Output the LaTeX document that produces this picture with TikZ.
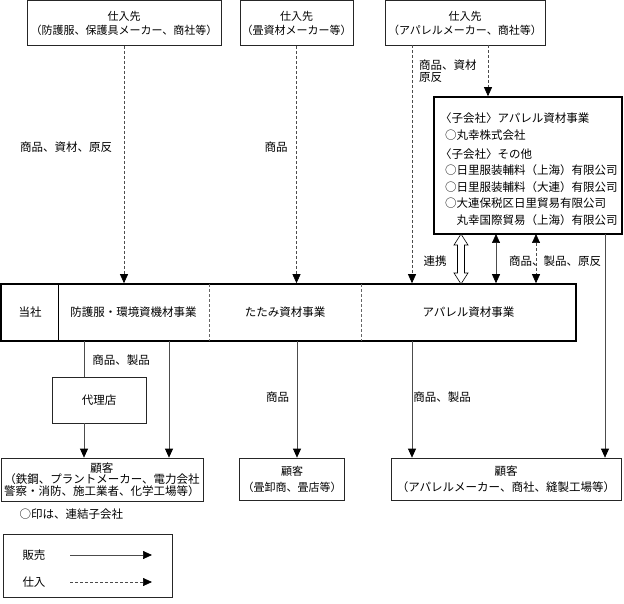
\documentclass[tikz,border=0pt]{standalone}
\usepackage{fontspec}
\setmainfont{Noto Sans CJK JP}
\usetikzlibrary{arrows.meta}

\begin{document}
\begin{tikzpicture}[x=1pt, y=-1pt,
    every node/.style={font=\fontsize{11.5}{14}\selectfont, inner sep=0pt},
    box/.style={draw=black!85, line width=0.7pt, align=center},
    heavy/.style={draw=black, line width=1.6pt},
    arr/.style={-{Triangle[length=9pt,width=8pt,color=black]}},
    arrboth/.style={{Triangle[length=9pt,width=8pt,color=black]}-{Triangle[length=9pt,width=8pt,color=black]}},
    sell/.style={draw=black!70, line width=0.7pt},
    buy/.style={draw=black!70, line width=0.7pt, dash pattern=on 3pt off 2pt}]
    \useasboundingbox (0,0) rectangle (624,604);

    % suppliers
    \node[box, minimum width=194pt, minimum height=45pt, font=\fontsize{11}{14}\selectfont] (sup1) at (124,23) {仕入先\\（防護服、保護具メーカー、商社等）};
    \node[box, minimum width=113pt, minimum height=45pt, font=\fontsize{11}{14}\selectfont] (sup2) at (296.5,23) {仕入先\\（畳資材メーカー等）};
    \node[box, minimum width=160pt, minimum height=45pt, font=\fontsize{11}{14}\selectfont] (sup3) at (465,23) {仕入先\\（アパレルメーカー、商社等）};

    % subsidiaries
    \node[heavy, minimum width=188pt, minimum height=137pt] (sub) at (528,165.5) {};
    \node[anchor=west] (sa1) at (440,118) {〈子会社〉アパレル資材事業};
    \node[anchor=west] (sa2) at (445,135) {○丸幸株式会社};
    \node[anchor=west] (sa3) at (440,154) {〈子会社〉その他};
    \node[anchor=west] (sa4) at (445,170.5) {○日里服装輔料（上海）有限公司};
    \node[anchor=west] (sa5) at (445,187) {○日里服装輔料（大連）有限公司};
    \node[anchor=west] (sa6) at (445,203.5) {○大連保税区日里貿易有限公司};
    \node[anchor=west] (sa7) at (456.5,220) {丸幸国際貿易（上海）有限公司};

    % own company
    \node[heavy, minimum width=575pt, minimum height=57pt] (bar) at (288.5,312.5) {};
    \node (own) at (30,312.5) {当社};
    \node (seg1) at (133.5,312.5) {防護服・環境資機材事業};
    \node (seg2) at (285,312.5) {たたみ資材事業};
    \node (seg3) at (468.5,312.5) {アパレル資材事業};
    \draw[line width=0.8pt] (58,284) -- (58,341);
    \draw[black!60, line width=0.6pt, dash pattern=on 3pt off 2pt] (209,284) -- (209,341);
    \draw[black!60, line width=0.6pt, dash pattern=on 3pt off 2pt] (361,284) -- (361,341);

    % agent and customers
    \node[box, minimum width=94pt, minimum height=46pt] (agent) at (99,400) {代理店};
    \node[box, minimum width=202pt, minimum height=43pt, font=\fontsize{11.5}{11.5}\selectfont] (cust1) at (102,479.5) {顧客\\（鉄鋼、プラントメーカー、電力会社\\警察・消防、施工業者、化学工場等）};
    \node[box, minimum width=105pt, minimum height=42pt, font=\fontsize{11}{16}\selectfont] (cust2) at (292,479) {顧客\\（畳卸商、畳店等）};
    \node[box, minimum width=230pt, minimum height=42pt, font=\fontsize{11.5}{16}\selectfont] (cust3) at (506,479) {顧客\\（アパレルメーカー、商社、縫製工場等）};

    % purchases
    \coordinate (p3a) at (412,45);
    \coordinate (p3b) at (488,45);
    \draw[buy, arr] (sup1.south) -- (sup1.south |- bar.north);
    \draw[buy, arr] (sup2.south) -- (sup2.south |- bar.north);
    \draw[buy, arr] (p3a) -- (p3a |- bar.north);
    \draw[buy, arr] (p3b) -- (p3b |- sub.north);
    \node (l1) at (66,147) {商品、資材、原反};
    \node (l2) at (276,147) {商品};
    \node[anchor=west, align=left, font=\fontsize{11.5}{12}\selectfont] (l3) at (419,71) {商品、資材\\原反};

    % subsidiaries <-> own company
    \coordinate (k1) at (461,234);
    \coordinate (k2) at (496,234);
    \coordinate (k3) at (536,234);
    \coordinate (k4) at (605,234);
    \draw[fill=white, line width=0.6pt] (k1) -- ++(7,11) -- ++(-3.5,0) -- ++(0,28) -- ++(3.5,0)
        -- ++(-7,11) -- ++(-7,-11) -- ++(3.5,0) -- ++(0,-28) -- ++(-3.5,0) -- cycle;
    \draw[sell, arrboth] (k2) -- (k2 |- bar.north);
    \draw[buy, arrboth] (k3) -- (k3 |- bar.north);
    \draw[sell, arr] (k4) -- (k4 |- cust3.north);
    \node (l4) at (435,261) {連携};
    \node (l5) at (555,261) {商品、製品、原反};

    % sales
    \coordinate (d1) at (84,341);
    \coordinate (d2) at (169,341);
    \coordinate (d3) at (297,341);
    \coordinate (d4) at (412,341);
    \draw[sell] (d1) -- (d1 |- agent.north);
    \draw[sell, arr] (d1 |- agent.south) -- (d1 |- cust1.north);
    \draw[sell, arr] (d2) -- (d2 |- cust1.north);
    \draw[sell, arr] (d3) -- (d3 |- cust2.north);
    \draw[sell, arr] (d4) -- (d4 |- cust3.north);
    \node (l6) at (121,360) {商品、製品};
    \node (l7) at (277.5,397) {商品};
    \node (l8) at (442,397) {商品、製品};

    % legend
    \node (note) at (71.5,514) {○印は、連結子会社};
    \node[box, minimum width=169pt, minimum height=63pt] (legend) at (87.5,565.5) {};
    \node (lsell) at (34,555) {販売};
    \node (lbuy) at (34,582) {仕入};
    \coordinate (ls0) at (70,555);
    \coordinate (ls1) at (152,555);
    \coordinate (lb0) at (70,582);
    \coordinate (lb1) at (152,582);
    \draw[sell, arr] (ls0) -- (ls1);
    \draw[buy, arr] (lb0) -- (lb1);
\end{tikzpicture}
\end{document}
